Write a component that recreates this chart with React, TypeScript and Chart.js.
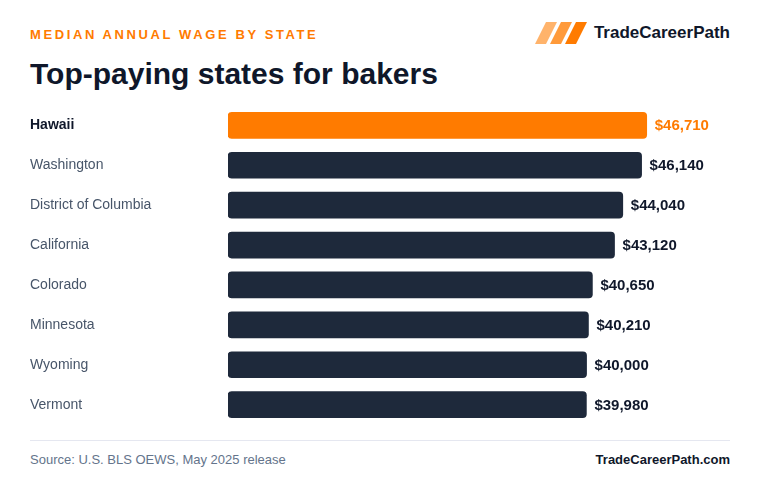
import React, { useEffect, useRef } from "react";
import { Chart, registerables } from "chart.js";

Chart.register(...registerables);

const states = [
  "Hawaii",
  "Washington",
  "District of Columbia",
  "California",
  "Colorado",
  "Minnesota",
  "Wyoming",
  "Vermont",
];
const wages = [46710, 46140, 44040, 43120, 40650, 40210, 40000, 39980];
const highlightIndex = 0;

const ORANGE = "#ff7b00";
const NAVY = "#1e293b";
const INK = "#0f172a";
const SLATE = "#475569";
const FONT = '"Liberation Sans", Arial, Helvetica, sans-serif';

const fmt = (v: number) => "$" + v.toLocaleString("en-US");

const valueLabels = {
  id: "valueLabels",
  afterDatasetsDraw(chart: any) {
    const { ctx } = chart;
    const meta = chart.getDatasetMeta(0);
    ctx.save();
    ctx.font = `bold 15px ${FONT}`;
    ctx.textBaseline = "middle";
    ctx.textAlign = "left";
    meta.data.forEach((bar: any, i: number) => {
      ctx.fillStyle = i === highlightIndex ? ORANGE : INK;
      ctx.fillText(fmt(wages[i]), bar.x + 8, bar.y + 1);
    });
    ctx.restore();
  },
};

function WageChart() {
  const ref = useRef<HTMLCanvasElement>(null);
  useEffect(() => {
    if (!ref.current) return;
    const chart = new Chart(ref.current, {
      type: "bar",
      data: {
        labels: states,
        datasets: [
          {
            data: wages,
            backgroundColor: wages.map((_, i) => (i === highlightIndex ? ORANGE : NAVY)),
            borderRadius: 4,
            borderSkipped: false,
            barThickness: 26,
          },
        ],
      },
      options: {
        indexAxis: "y",
        animation: false,
        responsive: false,
        maintainAspectRatio: false,
        layout: { padding: { left: 30, right: 30, top: 0, bottom: 0 } },
        plugins: { legend: { display: false }, tooltip: { enabled: false } },
        scales: {
          x: { display: false, min: 0, max: 56000 },
          y: {
            grid: { display: false },
            border: { display: false },
            afterFit: (scale: any) => {
              scale.width = 198;
            },
            ticks: {
              crossAlign: "far",
              padding: 0,
              color: (c: any) => (c.index === highlightIndex ? INK : SLATE),
              font: (c: any) => ({
                family: FONT,
                size: 14,
                weight: c.index === highlightIndex ? "bold" : "normal",
              }),
            },
          },
        },
      },
      plugins: [valueLabels],
    });
    return () => chart.destroy();
  }, []);
  return <canvas ref={ref} width={760} height={336} style={{ position: "absolute", left: 0, top: 97 }} />;
}

export default function App() {
  return (
    <div
      style={{
        position: "fixed",
        left: 0,
        top: 0,
        width: 760,
        height: 496,
        background: "#ffffff",
        fontFamily: FONT,
        overflow: "hidden",
      }}
    >
      <div
        style={{
          position: "absolute",
          left: 30,
          top: 27,
          fontSize: 13,
          fontWeight: "bold",
          letterSpacing: 2.6,
          color: ORANGE,
          lineHeight: "16px",
        }}
      >
        MEDIAN ANNUAL WAGE BY STATE
      </div>
      <div
        style={{
          position: "absolute",
          left: 30,
          top: 56,
          fontSize: 30,
          fontWeight: "bold",
          color: INK,
          lineHeight: "36px",
        }}
      >
        Top-paying states for bakers
      </div>
      <svg width={60} height={26} style={{ position: "absolute", left: 532, top: 20 }}>
        <polygon points="3,24 14,2 25,2 14,24" fill="#ffb36b" />
        <polygon points="18,24 29,2 40,2 29,24" fill="#ff9a3a" />
        <polygon points="33,24 44,2 55,2 44,24" fill="#ff7b00" />
      </svg>
      <div
        style={{
          position: "absolute",
          right: 30,
          top: 23,
          fontSize: 17,
          fontWeight: "bold",
          color: INK,
          lineHeight: "20px",
        }}
      >
        TradeCareerPath
      </div>
      <WageChart />
      <div style={{ position: "absolute", left: 30, right: 30, top: 440, height: 1, background: "#e5e7f0" }} />
      <div style={{ position: "absolute", left: 30, top: 452, fontSize: 13, color: "#64748b", lineHeight: "16px" }}>
        Source: U.S. BLS OEWS, May 2025 release
      </div>
      <div
        style={{
          position: "absolute",
          right: 30,
          top: 452,
          fontSize: 13,
          fontWeight: "bold",
          color: INK,
          lineHeight: "16px",
        }}
      >
        TradeCareerPath.com
      </div>
    </div>
  );
}
